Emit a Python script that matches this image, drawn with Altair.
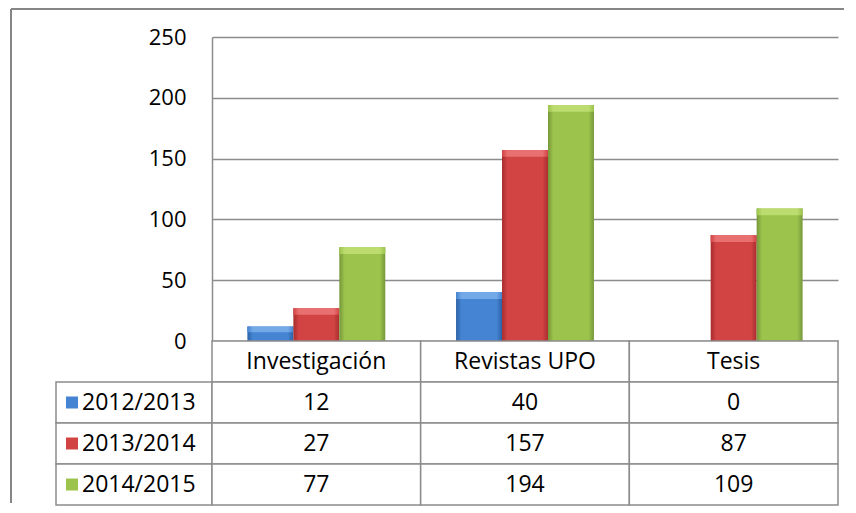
import altair as alt
import pandas as pd

# ---------------- data ----------------
categories = ["Investigación", "Revistas UPO", "Tesis"]
series = ["2012/2013", "2013/2014", "2014/2015"]
v_2012_2013 = [12, 40, 0]
v_2013_2014 = [27, 157, 87]
v_2014_2015 = [77, 194, 109]
y_ticks = [0, 50, 100, 150, 200, 250]

values_by_series = {
    series[0]: v_2012_2013,
    series[1]: v_2013_2014,
    series[2]: v_2014_2015,
}

HEADER = " "
rows = [HEADER] + series

bar_df = pd.DataFrame(
    [
        {"categoria": c, "serie": s, "valor": values_by_series[s][i]}
        for s in series
        for i, c in enumerate(categories)
    ]
)

table_records = [{"categoria": c, "fila": HEADER, "texto": c} for c in categories]
for s in series:
    for i, c in enumerate(categories):
        table_records.append({"categoria": c, "fila": s, "texto": str(values_by_series[s][i])})
table_df = pd.DataFrame(table_records)
legend_df = pd.DataFrame({"serie": series})

# ---------------- style ----------------
FONT = "Open Sans"
FS_AXIS = 22
FS = 23
GRID = "#8c8c8c"
FRAME = "#868686"
# (dark edge, body, light bevel)
base_colors = {
    series[0]: ("#2c62a6", "#4584d2", "#74a9e8"),
    series[1]: ("#a82d2e", "#d24344", "#e87070"),
    series[2]: ("#76973a", "#9cc44c", "#bcdc70"),
}


def gradient(dark, base):
    return {
        "gradient": "linear",
        "x1": 0, "x2": 1, "y1": 0, "y2": 0,
        "stops": [
            {"offset": 0, "color": dark},
            {"offset": 0.12, "color": base},
            {"offset": 0.88, "color": base},
            {"offset": 1, "color": dark},
        ],
    }


PLOT_W = 626
PLOT_H = 304
LEG_W = 156
TABLE_H = 164

x_enc = alt.X(
    "categoria:N",
    sort=categories,
    scale=alt.Scale(domain=categories, paddingInner=0, paddingOuter=0),
    axis=None,
)
xo_enc = alt.XOffset(
    "serie:N",
    sort=series,
    scale=alt.Scale(domain=series, paddingInner=0, paddingOuter=0.77),
)
y_axis = alt.Axis(
    values=y_ticks,
    grid=True,
    gridColor=GRID,
    gridWidth=1.5,
    domain=True,
    domainColor=GRID,
    domainWidth=1.5,
    ticks=False,
    labelPadding=26,
    labelFont=FONT,
    labelFontSize=FS_AXIS,
    labelColor="black",
    title=None,
)
y_scale = alt.Scale(domain=[0, 250], nice=False)
y_enc = alt.Y("valor:Q", scale=y_scale, axis=y_axis)

bar_layers = []
for s in series:
    dark, base, light = base_colors[s]
    bar_layers.append(
        alt.Chart(bar_df)
        .transform_filter(alt.datum.serie == s)
        .mark_bar(fill=gradient(dark, base))
        .encode(x=x_enc, xOffset=xo_enc, y=y_enc)
    )
    # light bevel on the top of each bar
    bar_layers.append(
        alt.Chart(bar_df)
        .transform_filter(alt.datum.serie == s)
        .transform_filter(alt.datum.valor > 0)
        .transform_calculate(bevel="datum.valor - min(5.5, datum.valor * 0.4)")
        .mark_bar(fill=gradient(base, light))
        .encode(x=x_enc, xOffset=xo_enc, y=y_enc, y2=alt.Y2("bevel:Q"))
    )
bars = alt.layer(*bar_layers).properties(width=PLOT_W, height=PLOT_H)

# spacer cell (left of the plot) carrying the outer frame of the chart
one = pd.DataFrame({"k": [0]})
frame_top = alt.Chart(one).mark_rule(color=FRAME, strokeWidth=2).encode(
    x=alt.value(-45), x2=alt.value(788), y=alt.value(-28)
)
frame_left = alt.Chart(one).mark_rule(color=FRAME, strokeWidth=2).encode(
    x=alt.value(-45), y=alt.value(-28), y2=alt.value(466)
)
spacer = alt.layer(frame_top, frame_left).properties(width=LEG_W, height=PLOT_H)

# legend column of the data table
row_enc = alt.Y(
    "fila:N",
    sort=rows,
    scale=alt.Scale(domain=rows, paddingInner=0, paddingOuter=0),
    axis=None,
)
leg_row_enc = alt.Y(
    "serie:N",
    sort=rows,
    scale=alt.Scale(domain=rows, paddingInner=0, paddingOuter=0),
    axis=None,
)
leg_rect = alt.Chart(legend_df).mark_rect(fill="white", stroke=GRID, strokeWidth=1.5).encode(
    y=leg_row_enc
)
leg_swatch = alt.Chart(legend_df).mark_square(size=144, opacity=1).encode(
    x=alt.value(16),
    y=leg_row_enc,
    color=alt.Color(
        "serie:N",
        scale=alt.Scale(domain=series, range=[base_colors[s][1] for s in series]),
        legend=None,
    ),
)
leg_text = alt.Chart(legend_df).mark_text(
    align="left", baseline="middle", font=FONT, fontSize=FS, color="black"
).encode(x=alt.value(26), y=leg_row_enc, text="serie:N")
legend_col = alt.layer(leg_rect, leg_swatch, leg_text).properties(width=LEG_W, height=TABLE_H)

# data table
tab_rect = alt.Chart(table_df).mark_rect(fill="white", stroke=GRID, strokeWidth=1.5).encode(
    x=x_enc, y=row_enc
)
tab_text = alt.Chart(table_df).mark_text(
    align="center", baseline="middle", font=FONT, fontSize=FS, color="black"
).encode(x=x_enc, y=row_enc, text="texto:N")
table = alt.layer(tab_rect, tab_text).properties(width=PLOT_W, height=TABLE_H)

chart = (
    alt.concat(spacer, bars, legend_col, table, columns=2, spacing=0, bounds="flush", align="each")
    .properties(padding={"left": 2, "top": 0, "right": 0, "bottom": 0}, background="white")
    .configure_view(stroke=None)
)

chart.save("out.html", embed_options={"renderer": "svg", "actions": False})
